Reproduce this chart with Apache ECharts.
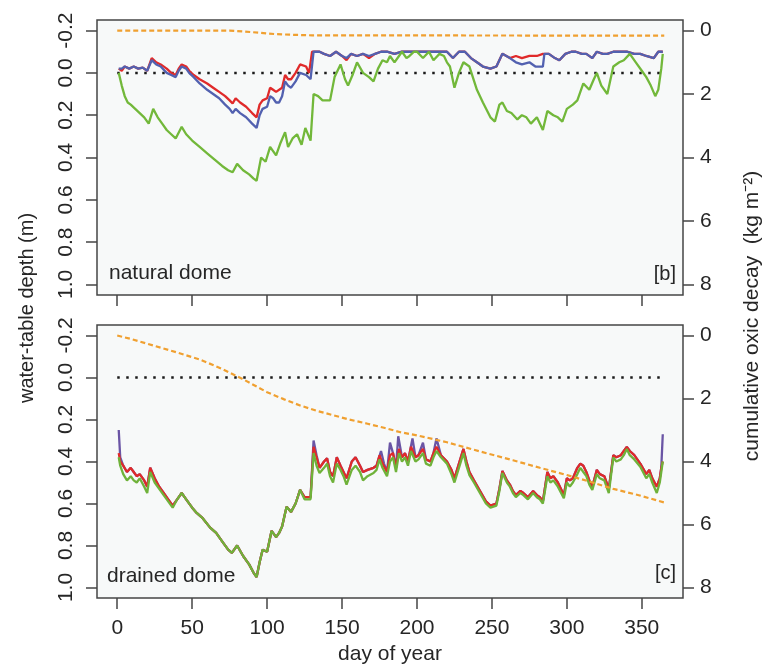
<!DOCTYPE html>
<html>
<head>
<meta charset="utf-8">
<script src="https://cdn.jsdelivr.net/npm/echarts@6/dist/echarts.min.js"></script>
<style>
html, body { margin: 0; padding: 0; background: #fff; }
#chart { width: 765px; height: 668px; }
</style>
</head>
<body>
<div id="chart"></div>
<script>
// tick labels
const dayTicks = [0, 50, 100, 150, 200, 250, 300, 350]
const depthTicks = [-0.2, 0.0, 0.2, 0.4, 0.6, 0.8, 1.0]
const decayTicks = [0, 2, 4, 6, 8]

// [day, water-table depth (m)] -- natural dome
const naturalRed = [[1,-0.02],[3,-0.01],[5,-0.03],[8,-0.02],[11,-0.03],[14,-0.02],[17,-0.025],[20,-0.01],[23,-0.07],[26,-0.05],[29,-0.04],[33,-0.02],[36,0.0],[39,0.01],[41,-0.02],[43,-0.04],[46,-0.03],[48,-0.01],[51,0.01],[55,0.03],[60,0.05],[64,0.07],[68,0.09],[72,0.11],[75,0.13],[77,0.145],[79,0.12],[82,0.14],[86,0.16],[90,0.19],[93,0.21],[95,0.15],[97,0.13],[100,0.12],[102,0.07],[104,0.08],[106,0.09],[110,0.07],[112,0.01],[114,0.03],[116,0.03],[119,0.0],[122,-0.04],[126,-0.03],[128,0.0],[130,-0.1],[135,-0.1],[138,-0.09],[142,-0.08],[146,-0.1],[150,-0.08],[153,-0.06],[156,-0.09],[160,-0.08],[164,-0.09],[168,-0.07],[172,-0.09],[176,-0.1],[180,-0.1],[185,-0.09],[190,-0.1],[195,-0.1],[200,-0.1],[205,-0.1],[210,-0.1],[215,-0.1],[220,-0.1],[224,-0.07],[228,-0.1],[232,-0.1],[236,-0.07],[240,-0.05],[244,-0.03],[249,-0.02],[253,-0.03],[257,-0.09],[262,-0.07],[266,-0.08],[270,-0.07],[275,-0.08],[280,-0.08],[284,-0.09],[288,-0.09],[292,-0.07],[295,-0.06],[299,-0.09],[303,-0.1],[306,-0.1],[310,-0.09],[313,-0.09],[317,-0.07],[320,-0.1],[324,-0.09],[327,-0.09],[331,-0.1],[336,-0.1],[340,-0.1],[345,-0.09],[349,-0.09],[353,-0.08],[358,-0.07],[361,-0.1],[364,-0.1]]
const naturalBlue = [[1,-0.02],[3,-0.02],[5,-0.03],[8,-0.02],[11,-0.03],[14,-0.02],[17,-0.025],[20,-0.01],[23,-0.06],[26,-0.04],[29,-0.03],[33,0.0],[36,0.01],[39,0.02],[41,-0.01],[43,-0.03],[46,-0.02],[48,0.0],[51,0.02],[55,0.05],[60,0.08],[64,0.1],[68,0.12],[72,0.15],[75,0.17],[77,0.19],[79,0.17],[82,0.19],[86,0.21],[90,0.24],[93,0.26],[95,0.2],[97,0.17],[100,0.16],[102,0.11],[104,0.12],[106,0.14],[108,0.14],[110,0.11],[112,0.04],[114,0.06],[116,0.07],[119,0.04],[122,0.0],[126,0.01],[129,0.03],[131,-0.1],[135,-0.1],[138,-0.09],[142,-0.08],[146,-0.1],[150,-0.08],[153,-0.07],[156,-0.09],[160,-0.08],[164,-0.09],[168,-0.08],[172,-0.09],[176,-0.1],[180,-0.1],[185,-0.09],[190,-0.1],[195,-0.1],[200,-0.1],[205,-0.1],[210,-0.1],[215,-0.1],[220,-0.1],[224,-0.07],[228,-0.1],[232,-0.1],[236,-0.07],[240,-0.05],[244,-0.03],[249,-0.02],[253,-0.03],[257,-0.09],[262,-0.07],[266,-0.05],[270,-0.04],[275,-0.05],[279,-0.03],[284,-0.03],[285,-0.09],[288,-0.09],[292,-0.07],[295,-0.06],[299,-0.09],[303,-0.1],[306,-0.1],[310,-0.09],[313,-0.09],[317,-0.07],[320,-0.1],[324,-0.09],[327,-0.09],[331,-0.1],[336,-0.1],[340,-0.1],[345,-0.09],[349,-0.09],[353,-0.08],[358,-0.07],[361,-0.1],[364,-0.1]]
const naturalGreen = [[1,0.0],[3,0.06],[5,0.11],[7,0.14],[9,0.15],[12,0.17],[15,0.19],[18,0.21],[21,0.24],[24,0.17],[27,0.21],[30,0.24],[33,0.27],[36,0.29],[39,0.31],[43,0.255],[46,0.29],[50,0.32],[55,0.35],[60,0.38],[65,0.41],[70,0.44],[74,0.46],[77,0.47],[80,0.43],[84,0.46],[88,0.48],[91,0.5],[93,0.51],[96,0.4],[99,0.42],[102,0.35],[106,0.39],[109,0.33],[112,0.28],[114,0.35],[117,0.31],[120,0.29],[123,0.34],[125.5,0.26],[129,0.32],[131,0.1],[134,0.11],[137,0.13],[142,0.13],[145,0.02],[149,-0.04],[152,0.03],[154,0.06],[157,0.01],[160,-0.05],[164,0.0],[168,0.02],[171,0.04],[174,-0.02],[177,-0.06],[180,-0.05],[182,-0.08],[185,-0.05],[188,-0.08],[190,-0.1],[193,-0.07],[195,-0.08],[198,-0.1],[200,-0.1],[204,-0.07],[208,-0.1],[211,-0.06],[215,-0.09],[218,-0.08],[220,-0.05],[222,-0.03],[225,0.07],[228,0.0],[231,-0.05],[235,-0.03],[240,0.08],[244,0.14],[249,0.21],[252,0.23],[255,0.15],[257,0.14],[260,0.18],[263,0.19],[267,0.22],[270,0.2],[273,0.21],[276,0.24],[280,0.21],[284,0.27],[287,0.18],[291,0.2],[294,0.21],[297,0.23],[300,0.17],[304,0.15],[307,0.13],[311,0.05],[315,0.08],[318,0.03],[320,0.0],[323,0.06],[327,0.1],[331,-0.03],[335,-0.05],[338,-0.06],[342,-0.09],[346,-0.05],[350,-0.01],[353,0.02],[356,0.06],[359,0.11],[361,0.08],[363,-0.02],[364,-0.09]]
// [day, cumulative oxic decay (kg m-2)]
const naturalDecay = [[0,0],[75,0],[85,0.03],[95,0.07],[105,0.11],[115,0.13],[130,0.15],[365,0.16]]

// drained dome
const drainedPurple = [[1,0.25],[2,0.38],[4,0.42],[6.5,0.45],[9,0.43],[11,0.45],[13,0.47],[15,0.46],[18,0.49],[20,0.52],[22,0.43],[25,0.48],[28,0.52],[31,0.55],[34,0.58],[37,0.61],[40,0.58],[43,0.55],[46,0.58],[50,0.62],[53,0.645],[57,0.67],[62,0.715],[66,0.74],[70,0.78],[74,0.82],[76.5,0.835],[80,0.8],[84,0.85],[88,0.89],[91,0.93],[93,0.95],[95,0.88],[97,0.82],[100,0.83],[103,0.73],[106,0.76],[108,0.74],[110,0.71],[113,0.615],[116,0.64],[119,0.6],[122,0.535],[125,0.57],[129,0.57],[131,0.3],[133,0.37],[135,0.43],[138,0.4],[140,0.385],[142,0.45],[144,0.47],[146.5,0.38],[149,0.42],[151,0.45],[153,0.48],[156.5,0.4],[159,0.38],[162,0.42],[164,0.45],[167,0.44],[171,0.43],[173,0.42],[176,0.35],[178,0.41],[180,0.45],[182,0.31],[184,0.36],[186,0.43],[187.5,0.28],[190,0.38],[192,0.36],[194,0.4],[197,0.29],[199,0.38],[201,0.37],[204,0.31],[206,0.39],[209,0.4],[211,0.36],[213,0.29],[216,0.37],[220,0.4],[223,0.44],[225,0.48],[228,0.41],[231,0.34],[233,0.4],[235,0.45],[238,0.49],[242,0.54],[246,0.59],[249,0.61],[253,0.6],[255,0.53],[257,0.445],[260,0.49],[262,0.51],[264,0.54],[266,0.56],[269,0.54],[271,0.55],[274,0.57],[277.5,0.54],[280,0.56],[282,0.57],[284,0.59],[287,0.45],[289,0.48],[291,0.47],[294,0.5],[298,0.56],[300,0.48],[302,0.49],[304,0.48],[307,0.43],[309,0.41],[311,0.42],[313,0.45],[315,0.49],[317,0.52],[320,0.44],[322,0.46],[325,0.47],[328,0.53],[331,0.37],[333,0.38],[336,0.37],[338,0.35],[340,0.33],[342,0.35],[345,0.37],[349,0.41],[353,0.46],[355,0.44],[357,0.48],[360,0.52],[362,0.48],[363,0.43],[364,0.27]]
const drainedRed = [[1,0.36],[2,0.4],[4,0.42],[6.5,0.45],[9,0.43],[11,0.45],[13,0.47],[15,0.46],[18,0.49],[20,0.52],[22,0.43],[25,0.48],[28,0.52],[31,0.55],[34,0.58],[37,0.61],[40,0.58],[43,0.55],[46,0.58],[50,0.62],[53,0.645],[57,0.67],[62,0.715],[66,0.74],[70,0.78],[74,0.82],[76.5,0.835],[80,0.8],[84,0.85],[88,0.89],[91,0.93],[93,0.95],[95,0.88],[97,0.82],[100,0.83],[103,0.73],[106,0.76],[108,0.74],[110,0.71],[113,0.615],[116,0.64],[119,0.6],[122,0.535],[125,0.57],[129,0.57],[131,0.33],[133,0.38],[135,0.43],[138,0.4],[140,0.385],[142,0.45],[144,0.47],[146.5,0.38],[149,0.42],[151,0.45],[153,0.48],[156.5,0.4],[159,0.38],[162,0.42],[164,0.45],[167,0.44],[171,0.43],[173,0.42],[175,0.37],[177,0.41],[180,0.45],[182,0.37],[184,0.36],[186,0.43],[188,0.34],[190,0.38],[192,0.36],[194,0.4],[196,0.33],[199,0.38],[201,0.37],[204,0.34],[206,0.39],[209,0.4],[211,0.36],[213,0.33],[216,0.37],[220,0.4],[223,0.44],[225,0.48],[228,0.41],[231,0.34],[233,0.4],[235,0.45],[238,0.49],[242,0.54],[246,0.59],[249,0.61],[253,0.6],[255,0.53],[257,0.445],[260,0.49],[262,0.51],[264,0.54],[266,0.56],[269,0.54],[271,0.55],[274,0.57],[277.5,0.54],[280,0.56],[282,0.57],[284,0.59],[287,0.45],[289,0.48],[291,0.47],[294,0.5],[298,0.56],[300,0.48],[302,0.49],[304,0.48],[307,0.43],[309,0.41],[311,0.42],[313,0.45],[315,0.49],[317,0.52],[320,0.44],[322,0.46],[325,0.47],[328,0.53],[331,0.37],[333,0.38],[336,0.37],[338,0.35],[340,0.33],[342,0.35],[345,0.37],[349,0.41],[353,0.46],[355,0.44],[357,0.48],[360,0.52],[362,0.48],[363,0.43],[364,0.4]]
const drainedGreen = [[1,0.38],[2,0.42],[4,0.46],[6.5,0.49],[9,0.47],[11,0.49],[13,0.5],[15,0.48],[18,0.52],[20,0.55],[22,0.45],[25,0.5],[28,0.53],[31,0.56],[34,0.59],[37,0.62],[40,0.58],[43,0.55],[46,0.58],[50,0.62],[53,0.645],[57,0.67],[62,0.715],[66,0.74],[70,0.78],[74,0.82],[76.5,0.835],[80,0.8],[84,0.85],[88,0.89],[91,0.93],[93,0.95],[95,0.88],[97,0.82],[100,0.83],[103,0.73],[106,0.76],[108,0.74],[110,0.71],[113,0.615],[116,0.64],[119,0.6],[122,0.535],[125,0.58],[129,0.58],[131,0.36],[133,0.42],[135,0.455],[138,0.43],[140,0.41],[142,0.47],[144,0.5],[146.5,0.41],[149,0.44],[151,0.47],[153,0.51],[156.5,0.44],[159,0.42],[162,0.45],[164,0.49],[167,0.47],[171,0.455],[173,0.44],[175,0.39],[177,0.43],[180,0.47],[182,0.4],[184,0.38],[186,0.45],[188,0.36],[190,0.4],[192,0.38],[194,0.42],[196,0.35],[199,0.4],[201,0.39],[204,0.36],[206,0.41],[209,0.42],[211,0.38],[213,0.35],[216,0.38],[220,0.41],[223,0.46],[225,0.5],[228,0.43],[231,0.36],[233,0.42],[235,0.465],[238,0.5],[242,0.55],[246,0.6],[249,0.62],[253,0.61],[255,0.54],[257,0.455],[260,0.5],[262,0.52],[264,0.55],[266,0.57],[269,0.55],[271,0.56],[274,0.58],[277.5,0.55],[280,0.57],[282,0.58],[284,0.6],[287,0.47],[289,0.5],[291,0.49],[294,0.52],[298,0.575],[300,0.5],[302,0.52],[304,0.5],[307,0.46],[309,0.43],[311,0.45],[313,0.47],[315,0.51],[317,0.535],[320,0.46],[322,0.48],[325,0.49],[328,0.55],[331,0.38],[333,0.4],[336,0.39],[338,0.37],[340,0.34],[342,0.37],[345,0.39],[349,0.425],[353,0.48],[355,0.46],[357,0.5],[360,0.55],[362,0.5],[363,0.45],[364,0.4]]
const drainedDecay = [[0,0],[10,0.12],[20,0.26],[30,0.4],[40,0.54],[55,0.76],[70,1.06],[84,1.39],[100,1.8],[111,2.02],[122,2.22],[133,2.39],[144,2.53],[155,2.67],[167,2.8],[178,2.93],[189,3.07],[200,3.17],[220,3.39],[242,3.68],[264,3.96],[282,4.2],[300,4.43],[316,4.65],[331,4.87],[348,5.07],[365,5.3]]

// water table at the surface
const surfaceLine = [[0, 0], [366, 0]]

const font = 'Liberation Sans, Arial, sans-serif'
const textColor = '#262626'
const frameColor = '#454545'

const chart = echarts.init(document.getElementById('chart'))

const xAxisFor = (gridIndex, showLabel) => ({
  type: 'value',
  gridIndex: gridIndex,
  position: 'bottom',
  min: -13.5,
  max: 377.5,
  axisLine: { show: false, onZero: false },
  splitLine: { show: false },
  axisTick: { show: true, length: 11, customValues: dayTicks, lineStyle: { color: frameColor, width: 1.5 } },
  axisLabel: { show: showLabel, customValues: dayTicks, margin: 20, fontSize: 21, fontFamily: font, color: textColor }
})

const depthAxis = (gridIndex) => ({
  type: 'value',
  gridIndex: gridIndex,
  position: 'left',
  inverse: true,
  min: -0.25,
  max: 1.05,
  axisLine: { show: false, onZero: false },
  splitLine: { show: false },
  axisTick: { show: true, length: 11, customValues: depthTicks, lineStyle: { color: frameColor, width: 1.5 } },
  axisLabel: {
    customValues: depthTicks,
    rotate: 90,
    margin: 20,
    fontSize: 21,
    fontFamily: font,
    color: textColor,
    formatter: (v) => v.toFixed(1)
  }
})

const decayAxis = (gridIndex) => ({
  type: 'value',
  gridIndex: gridIndex,
  position: 'right',
  inverse: true,
  min: -1 / 3,
  max: 25 / 3,
  axisLine: { show: false, onZero: false },
  splitLine: { show: false },
  axisTick: { show: true, length: 11, customValues: decayTicks, lineStyle: { color: frameColor, width: 1.5 } },
  axisLabel: { customValues: decayTicks, margin: 17, fontSize: 21, fontFamily: font, color: textColor }
})

const lineSeries = (name, data, xi, yi, color, extra) => Object.assign({
  name: name,
  type: 'line',
  xAxisIndex: xi,
  yAxisIndex: yi,
  data: data,
  showSymbol: false,
  symbol: 'none',
  lineStyle: { color: color, width: 2.3 },
  silent: true
}, extra || {})

const decayStyle = { lineStyle: { color: '#f0a030', width: 2.2, type: [5, 3] }, z: 4 }
const dottedStyle = { lineStyle: { color: '#1a1a1a', width: 2.5, type: [2.5, 6.5] }, z: 1 }

const option = {
  animation: false,
  backgroundColor: '#ffffff',
  grid: [
    { left: 97, top: 20, width: 586, height: 275, show: true, backgroundColor: '#f7f9f9', borderColor: frameColor, borderWidth: 1.5 },
    { left: 97, top: 325, width: 586, height: 273, show: true, backgroundColor: '#f7f9f9', borderColor: frameColor, borderWidth: 1.5 }
  ],
  xAxis: [xAxisFor(0, false), xAxisFor(1, true)],
  yAxis: [depthAxis(0), decayAxis(0), depthAxis(1), decayAxis(1)],
  series: [
    lineSeries('surface', surfaceLine, 0, 0, '#1a1a1a', dottedStyle),
    lineSeries('natural red', naturalRed, 0, 0, '#e02a2a', { z: 2 }),
    lineSeries('natural blue', naturalBlue, 0, 0, '#5261b0', { z: 2 }),
    lineSeries('natural green', naturalGreen, 0, 0, '#72b83a', { z: 3 }),
    lineSeries('natural decay', naturalDecay, 0, 1, '#f0a030', decayStyle),
    lineSeries('surface', surfaceLine, 1, 2, '#1a1a1a', dottedStyle),
    lineSeries('drained purple', drainedPurple, 1, 2, '#6a55a5', { z: 2 }),
    lineSeries('drained red', drainedRed, 1, 2, '#e02a2a', { z: 2 }),
    lineSeries('drained green', drainedGreen, 1, 2, '#6fb23a', { z: 3 }),
    lineSeries('drained decay', drainedDecay, 1, 3, '#f0a030', decayStyle)
  ],
  graphic: [
    { type: 'text', left: 109, top: 263, style: { text: 'natural dome', fontSize: 21, fontFamily: font, fill: textColor } },
    { type: 'text', right: 89, top: 264, style: { text: '[b]', fontSize: 20, fontFamily: font, fill: textColor } },
    { type: 'text', left: 107, top: 566, style: { text: 'drained dome', fontSize: 21, fontFamily: font, fill: textColor } },
    { type: 'text', right: 89, top: 563, style: { text: '[c]', fontSize: 20, fontFamily: font, fill: textColor } },
    { type: 'text', x: 390, y: 654, style: { text: 'day of year', fontSize: 21, fontFamily: font, fill: textColor, align: 'center', verticalAlign: 'middle' } },
    { type: 'text', x: 27, y: 308, rotation: Math.PI / 2, style: { text: 'water-table depth (m)', fontSize: 20, fontFamily: font, fill: textColor, align: 'center', verticalAlign: 'middle' } },
    { type: 'text', x: 752, y: 316, rotation: Math.PI / 2, style: { text: 'cumulative oxic decay  (kg m\u207B\u00B2)', fontSize: 21, fontFamily: font, fill: textColor, align: 'center', verticalAlign: 'middle' } }
  ]
}

chart.setOption(option)
</script>
</body>
</html>
